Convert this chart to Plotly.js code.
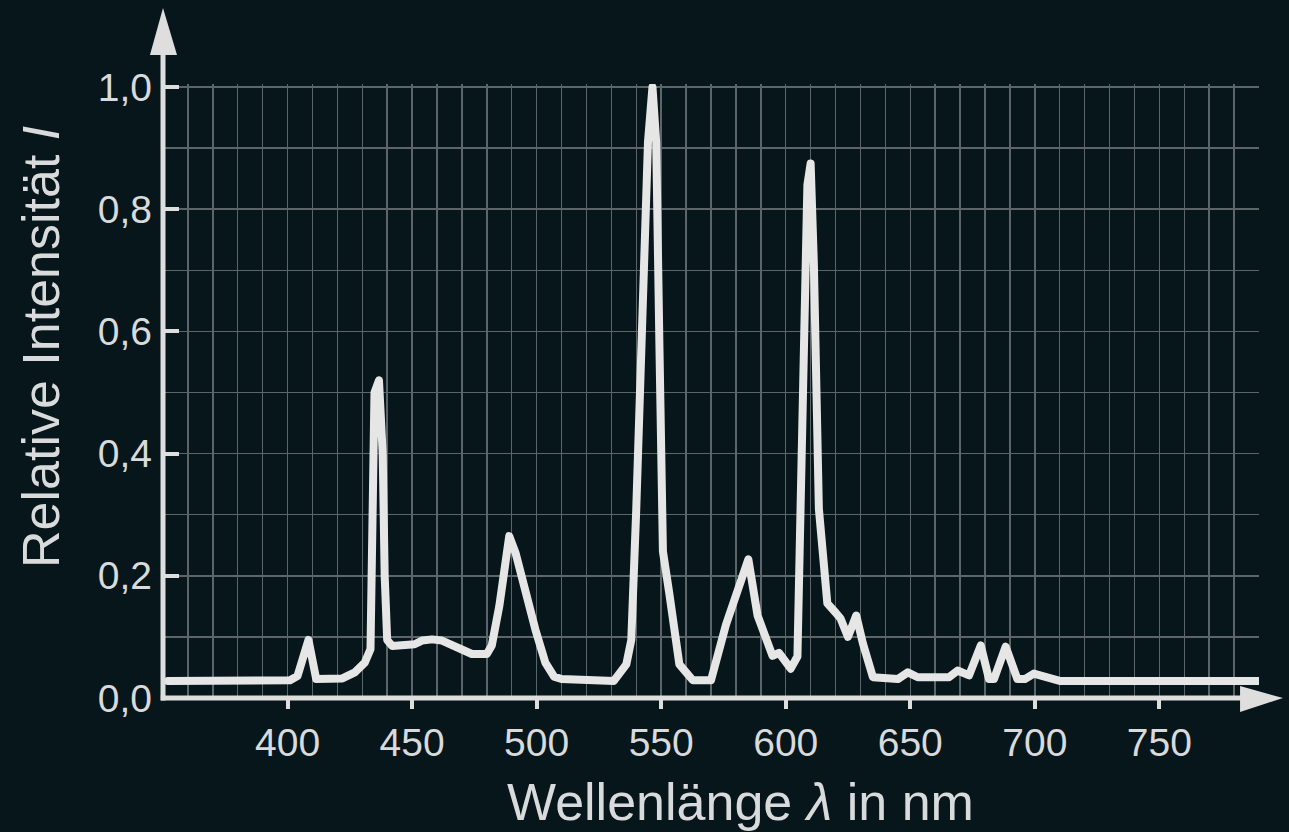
<!DOCTYPE html>
<html>
<head>
<meta charset="utf-8">
<script src="https://cdn.plot.ly/plotly-3.0.1.min.js"></script>
<style>
html,body{margin:0;padding:0;background:#06161b;}
#chart{width:1289px;height:832px;}
.js-line{stroke-linejoin:round !important;stroke-linecap:round !important;}
</style>
</head>
<body>
<div id="chart"></div>
<script>
// Wavelength in nm
const wavelength = [352,401,404,408.4,411.5,422,427,431,433.3,434.3,434.9,436.7,438.2,439,440,442,451,454,458,462,468.5,474,480,482,485,489,491.5,495.5,499.5,503.5,507,510,531,536,538,540,542.7,544.7,546.5,548,549.3,550.7,553.3,557.3,562.7,570,576,581.3,585,588.7,592,594.7,597.3,602,604.7,606.7,608.7,610,611.3,613.3,616.7,620,622,625,628.3,631,635,645,649,653,665.6,669,673.6,678.3,681.6,683.6,688.3,693,696,699.6,705.6,710,790];
// Relative intensity
const intensity = [0.028,0.029,0.036,0.095,0.031,0.032,0.042,0.058,0.08,0.26,0.50,0.52,0.40,0.2,0.095,0.085,0.088,0.094,0.096,0.094,0.081,0.072,0.072,0.086,0.15,0.265,0.238,0.172,0.112,0.058,0.035,0.031,0.028,0.055,0.095,0.31,0.64,0.91,1.0,0.91,0.575,0.24,0.17,0.055,0.029,0.029,0.12,0.187,0.227,0.135,0.095,0.069,0.074,0.048,0.068,0.44,0.84,0.875,0.71,0.31,0.155,0.14,0.13,0.1,0.135,0.089,0.034,0.031,0.042,0.034,0.034,0.045,0.037,0.086,0.031,0.031,0.084,0.031,0.031,0.04,0.034,0.028,0.028];

const xTickVals = [400,450,500,550,600,650,700,750];
const xTickText = ['400','450','500','550','600','650','700','750'];
const yTickVals = [0,0.2,0.4,0.6,0.8,1.0];
const yTickText = ['0,0','0,2','0,4','0,6','0,8','1,0'];

const axisColor = '#dedede';
const gridColor = '#5c6669';
const textColor = '#d9dadb';
const font = '"Liberation Sans", Arial, sans-serif';

const trace = {
  x: wavelength, y: intensity, type: 'scatter', mode: 'lines',
  line: {color: '#e6e6e6', width: 8, shape: 'linear'},
  hoverinfo: 'skip'
};

const layout = {
  width: 1289, height: 832,
  paper_bgcolor: '#06161b', plot_bgcolor: '#06161b',
  margin: {l: 163, r: 30, t: 84, b: 134},
  showlegend: false,
  font: {family: font, color: textColor},
  xaxis: {
    range: [350, 790], tickmode: 'array', tickvals: xTickVals, ticktext: xTickText,
    ticks: 'outside', ticklen: 10, tickwidth: 4, tickcolor: axisColor,
    showgrid: true, gridcolor: gridColor, gridwidth: 1.5,
    minor: {dtick: 10, tick0: 350, showgrid: true, gridcolor: gridColor, gridwidth: 1.5, ticks: ''},
    showline: false, zeroline: false,
    tickfont: {size: 39, color: textColor, family: font},
    ticklabelstandoff: 0
  },
  yaxis: {
    range: [0, 1.005], tickmode: 'array', tickvals: yTickVals, ticktext: yTickText,
    ticks: 'inside', ticklen: 16, tickwidth: 4, tickcolor: axisColor,
    showgrid: true, gridcolor: gridColor, gridwidth: 1.5,
    minor: {dtick: 0.1, tick0: 0, showgrid: true, gridcolor: gridColor, gridwidth: 1.5, ticks: ''},
    showline: false, zeroline: false,
    tickfont: {size: 39, color: textColor, family: font},
    ticklabelstandoff: 10
  },
  shapes: [
    {type: 'line', xref: 'paper', yref: 'paper', x0: 0, x1: 0, y0: -0.004, y1: 1.06, line: {color: axisColor, width: 5}},
    {type: 'path', xref: 'paper', yref: 'paper', path: 'M -0.0119 1.0472 L 0.0128 1.0472 L 0 1.1238 Z', fillcolor: axisColor, line: {color: axisColor, width: 0}},
    {type: 'line', xref: 'paper', yref: 'paper', x0: -0.002, x1: 0.985, y0: 0, y1: 0, line: {color: axisColor, width: 5}},
    {type: 'path', xref: 'paper', yref: 'paper', path: 'M 0.9827 0.0195 L 0.9827 -0.0228 L 1.0219 0 Z', fillcolor: axisColor, line: {color: axisColor, width: 0}}
  ],
  annotations: [
    {text: 'Relative Intensität <i>I</i>', xref: 'paper', yref: 'paper', x: -0.1113, y: 0.5717,
     textangle: -90, showarrow: false, xanchor: 'center', yanchor: 'middle',
     font: {size: 52, color: textColor, family: font}},
    {text: 'Wellenlänge <i>λ</i> in nm', xref: 'paper', yref: 'paper', x: 0.5265, y: -0.170,
     showarrow: false, xanchor: 'center', yanchor: 'middle',
     font: {size: 52, color: textColor, family: font}}
  ]
};

Plotly.newPlot('chart', [trace], layout, {staticPlot: true, displayModeBar: false});
</script>
</body>
</html>
